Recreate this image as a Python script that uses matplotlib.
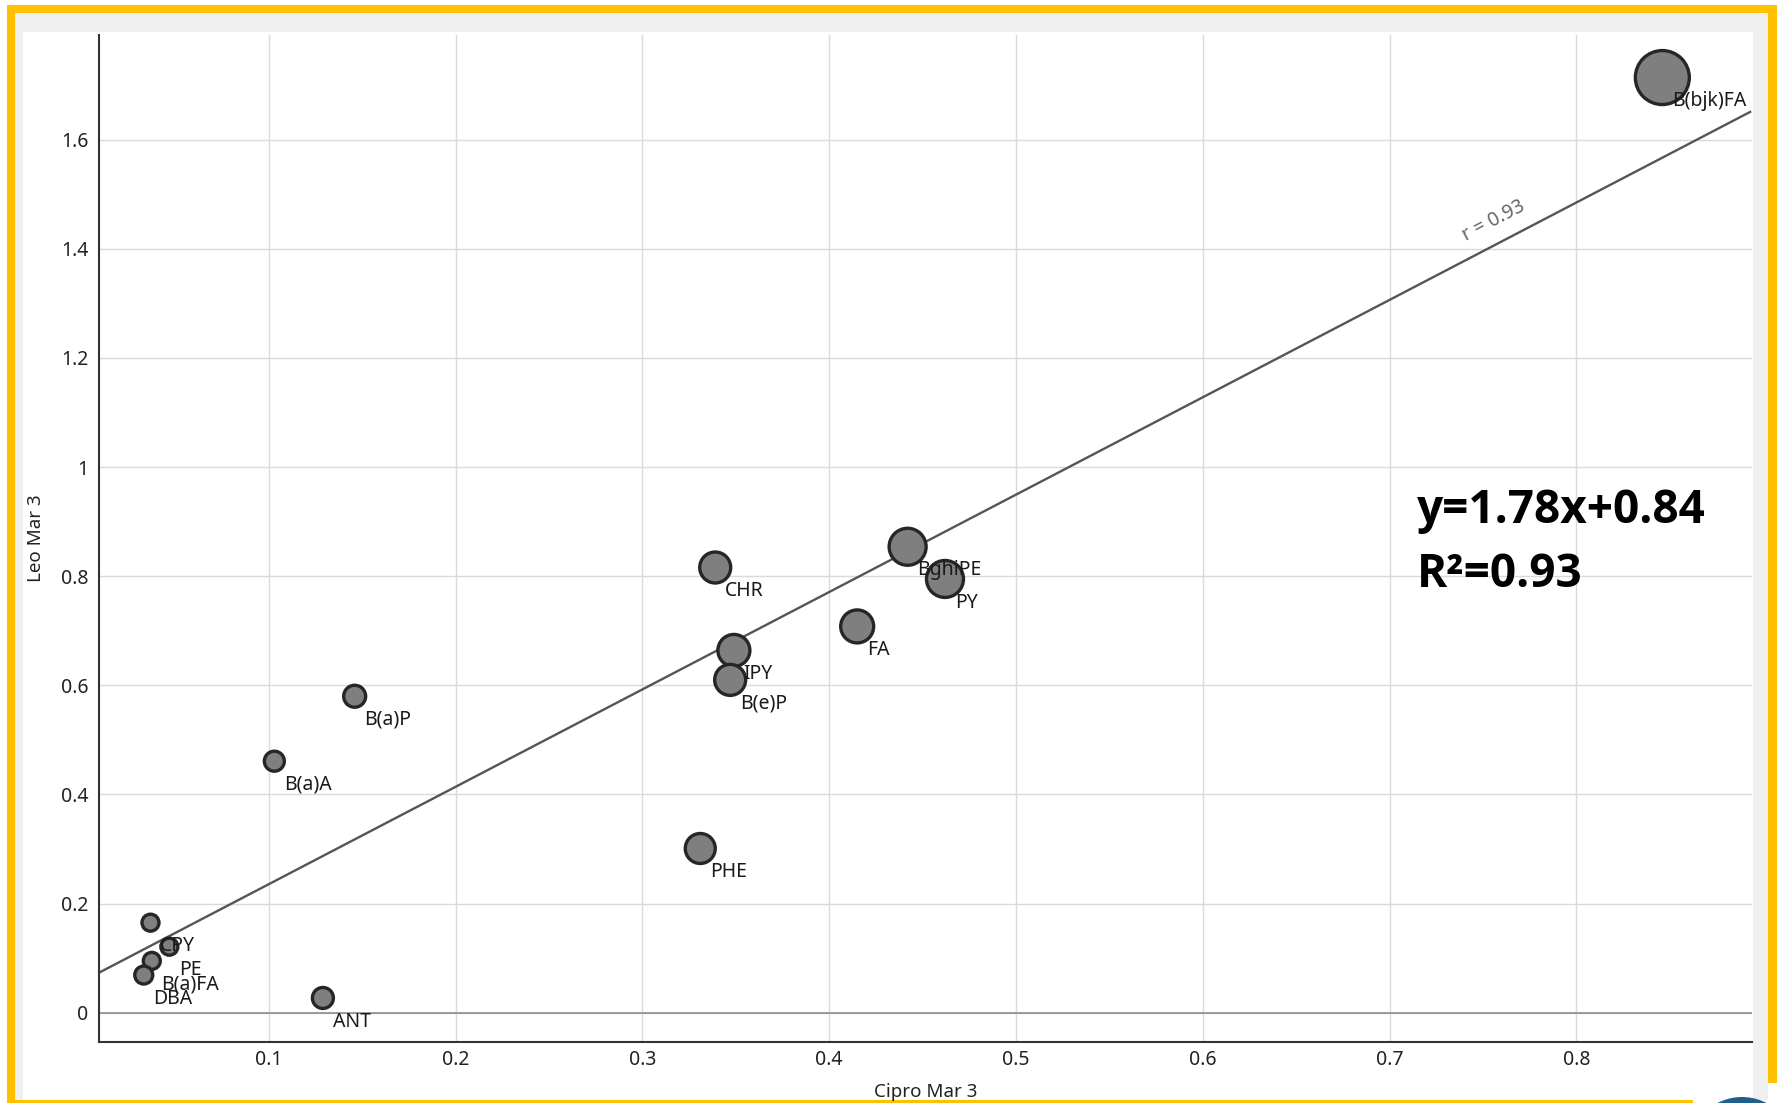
import matplotlib.pyplot as plt
from matplotlib.patches import Rectangle, Ellipse

# bubble data
labels = ['B(bjk)FA', 'BghiPE', 'PY', 'FA', 'CHR', 'IPY', 'B(e)P', 'PHE',
          'B(a)P', 'B(a)A', 'ANT', 'CPY', 'PE', 'B(a)FA', 'DBA']
cipro = [0.846, 0.442, 0.462, 0.415, 0.339, 0.349, 0.347, 0.331,
         0.146, 0.103, 0.129, 0.0367, 0.0468, 0.0374, 0.0331]
leo = [1.714, 0.854, 0.795, 0.708, 0.816, 0.664, 0.610, 0.301,
       0.580, 0.461, 0.027, 0.165, 0.121, 0.095, 0.069]
weight = [54, 37, 37, 33, 31, 32, 31, 30, 22, 20, 21, 17, 17, 17, 18]

fit_slope = 1.785
fit_intercept = 0.057
r_text = 'r = 0.93'
eq_text = 'y=1.78x+0.84'
r2_text = 'R\u00b2=0.93'

xticks = [0.1, 0.2, 0.3, 0.4, 0.5, 0.6, 0.7, 0.8]
yticks = [0, 0.2, 0.4, 0.6, 0.8, 1, 1.2, 1.4, 1.6]

W, H = 1782, 1103
yellow = '#FFC000'

plt.rcParams['font.family'] = ['Noto Sans', 'DejaVu Sans']

fig = plt.figure(figsize=(W / 100, H / 100), dpi=100)
fig.patch.set_facecolor('white')


def px_rect(x0, y0, x1, y1, color, z=0):
    # rectangle in pixel coords, y measured from the top
    r = Rectangle((x0 / W, 1 - y1 / H), (x1 - x0) / W, (y1 - y0) / H,
                  transform=fig.transFigure, facecolor=color, edgecolor='none', zorder=z)
    fig.add_artist(r)


# frame around the screenshot
px_rect(15, 13, 1768, 1100, '#efefef')
px_rect(23, 32, 1753, 1100, 'white')
px_rect(7, 5, 15, 1103, yellow)
px_rect(7, 5, 1777, 13, yellow)
px_rect(1768, 5, 1777, 1083, yellow)
px_rect(7, 1100, 1693, 1103, yellow)
blob = Ellipse((1742 / W, 1 - 1150 / H), 106 / W, 106 / H, transform=fig.transFigure,
               facecolor='#1f5f8b', edgecolor='none')
fig.add_artist(blob)

ax = fig.add_axes([99.3 / W, 61 / H, (1752 - 99.3) / W, (1042 - 35) / H])
ax.patch.set_alpha(0)
ax.set_xlim(0.0093, 0.894)
ax.set_ylim(-0.0537, 1.792)

ax.set_xticks(xticks)
ax.set_yticks(yticks)
ax.set_xticklabels([f'{v:g}' for v in xticks])
ax.set_yticklabels([f'{v:g}' for v in yticks])
ax.tick_params(length=0, labelsize=14, colors='#222222')
ax.tick_params(axis='x', pad=6)
ax.tick_params(axis='y', pad=8)
ax.grid(True, color='#dadada', linewidth=1.0)
ax.set_axisbelow(True)
ax.axhline(0, color='#8c8c8c', linewidth=1.2, zorder=1)

for side in ['top', 'right']:
    ax.spines[side].set_visible(False)
for side in ['left', 'bottom']:
    ax.spines[side].set_color('#333333')
    ax.spines[side].set_linewidth(1.5)

ax.set_xlabel('Cipro Mar 3', fontsize=13.5, color='#222222', labelpad=9)
ax.set_ylabel('Leo Mar 3', fontsize=13.5, color='#222222', labelpad=11)

# fit line
x0, x1 = 0.0093, 0.893
ax.plot([x0, x1], [fit_slope * x0 + fit_intercept, fit_slope * x1 + fit_intercept],
        color='#555555', linewidth=1.7, zorder=2)
ax.text(0.756, 1.452, r_text, rotation=27.5, ha='center', va='center',
        rotation_mode='anchor', fontsize=14, color='#666666')

# bubbles
sizes = [(d * 0.72) ** 2 for d in weight]
ax.scatter(cipro, leo, s=sizes, facecolor='#7f7f7f', edgecolor='#262626',
           linewidth=2.4, zorder=3)

for name, x, y in zip(labels, cipro, leo):
    ax.annotate(name, (x, y), xytext=(7.0, -17), textcoords='offset points',
                ha='left', va='center', fontsize=14, color='#1a1a1a', zorder=4)

fig.text(1417 / W, 1 - 523 / H, eq_text, fontsize=33, fontweight='bold',
         family='Open Sans', color='black', va='baseline', ha='left')
fig.text(1417 / W, 1 - 587 / H, r2_text, fontsize=33, fontweight='bold',
         family='Open Sans', color='black', va='baseline', ha='left')

fig.savefig('out.png', dpi=100)
